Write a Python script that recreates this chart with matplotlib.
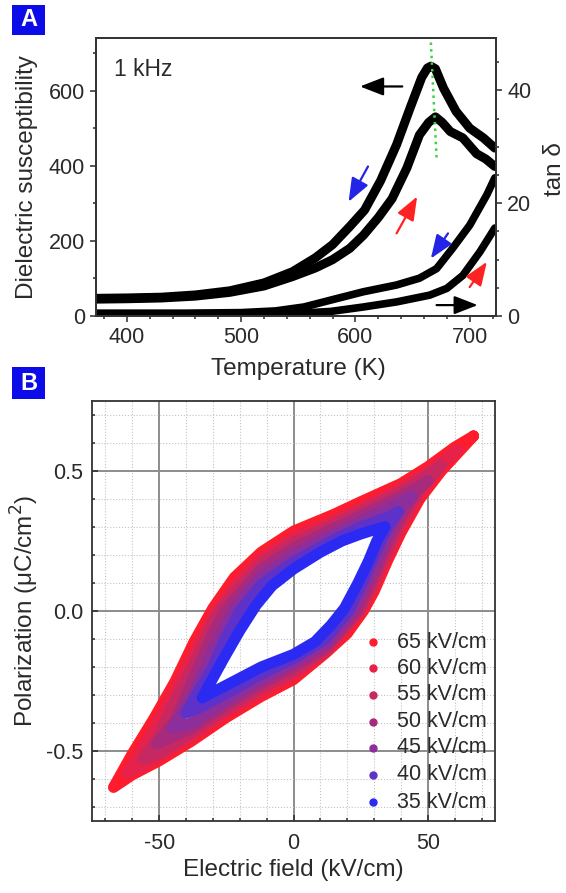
import matplotlib.pyplot as plt
from matplotlib.patches import Rectangle
from matplotlib.ticker import MultipleLocator

plt.rcParams['font.family'] = ['Liberation Sans', 'DejaVu Sans']
TXT = '#2a2a2a'
plt.rcParams['text.color'] = TXT
plt.rcParams['axes.labelcolor'] = TXT
plt.rcParams['xtick.color'] = TXT
plt.rcParams['ytick.color'] = TXT

# ---- panel A: dielectric susceptibility + tan delta at 1 kHz ----
t_chi_cool = [374, 400, 430, 460, 490, 520, 545, 565, 580, 595, 608, 622, 636,
              648, 658, 663, 666, 670, 677, 688, 700, 712, 722]
chi_cool = [47, 48, 50, 56, 67, 88, 118, 155, 190, 238, 282, 360, 456,
            555, 635, 660, 665, 658, 607, 545, 500, 474, 447]
t_chi_heat = [374, 400, 430, 460, 490, 520, 545, 565, 580, 595, 607, 620, 632,
              645, 656, 664, 670, 676, 683, 694, 706, 714, 722]
chi_heat = [45, 46, 48, 53, 63, 80, 105, 128, 150, 180, 215, 262, 312,
            394, 482, 515, 530, 515, 491, 474, 432, 418, 398]

t_tan_cool = [374, 450, 500, 530, 555, 578, 607, 636, 656, 671, 685, 700, 715, 722]
tan_cool = [0.5, 0.5, 0.6, 0.9, 1.6, 2.8, 4.3, 5.5, 6.7, 8.4, 12.0, 16.1, 21.5, 24.5]
t_tan_heat = [374, 450, 500, 540, 560, 578, 607, 636, 665, 680, 694, 709, 722]
tan_heat = [0.3, 0.3, 0.3, 0.4, 0.6, 0.8, 1.6, 2.5, 3.7, 4.9, 7.2, 11.4, 15.6]

# arrows (start, end) in temperature / susceptibility units
arrows = [((641, 611), (604, 611), 'black'),
          ((611, 398), (594, 304), '#2424e6'),
          ((636, 220), (654, 318), '#ff2222'),
          ((681, 220), (666, 153), '#2424e6'),
          ((700, 77), (715, 144), '#ff2222'),
          ((671, 29), (707, 29), 'black')]

# ---- panel B: P-E loops ----
fields = [65, 60, 55, 50, 45, 40, 35]
loop_colors = ['#ff1c2c', '#e6214a', '#c82862', '#a82a7c', '#8c2e9c', '#5e32c8', '#2a2af2']

e65 = [67, 60, 50, 40, 25, 15, 0, -12, -22, -30, -37, -44, -52, -60, -67,
       -60, -50, -38, -25, -12, 0, 12, 20, 26, 30, 35, 40, 47, 55, 67]
p65 = [0.625, 0.585, 0.515, 0.455, 0.39, 0.345, 0.285, 0.21, 0.12, 0.01, -0.11, -0.25, -0.385, -0.51, -0.63,
       -0.585, -0.535, -0.465, -0.38, -0.305, -0.245, -0.15, -0.08, 0.0, 0.07, 0.18, 0.28, 0.40, 0.50, 0.625]
e60 = [61, 50, 40, 25, 15, 0, -12, -22, -29, -37, -44, -52, -57, -62,
       -57, -50, -38, -25, -12, 0, 12, 25, 30, 35, 40, 47, 55, 61]
p60 = [0.575, 0.50, 0.44, 0.37, 0.325, 0.265, 0.19, 0.09, 0.0, -0.145, -0.28, -0.42, -0.50, -0.58,
       -0.56, -0.52, -0.45, -0.365, -0.29, -0.23, -0.145, 0.0, 0.09, 0.20, 0.30, 0.415, 0.52, 0.575]
e55 = [55, 50, 40, 25, 15, 0, -12, -22, -27.5, -30, -37, -44, -50, -56,
       -50, -38, -25, -12, 0, 12, 24.5, 30, 35, 40, 47, 55]
p55 = [0.52, 0.485, 0.425, 0.355, 0.31, 0.245, 0.17, 0.065, 0.0, -0.04, -0.19, -0.32, -0.44, -0.53,
       -0.51, -0.435, -0.35, -0.275, -0.215, -0.14, 0.0, 0.11, 0.22, 0.32, 0.435, 0.52]
e50 = [50, 40, 25, 15, 0, -12, -22, -25.5, -30, -37, -44, -51,
       -44, -38, -25, -12, 0, 12, 23.5, 30, 35, 40, 46, 50]
p50 = [0.465, 0.41, 0.34, 0.295, 0.225, 0.15, 0.04, 0.0, -0.08, -0.235, -0.39, -0.475,
       -0.445, -0.42, -0.335, -0.26, -0.20, -0.13, 0.0, 0.13, 0.245, 0.34, 0.43, 0.465]
e45 = [44, 40, 25, 15, 0, -12, -22, -30, -37, -41, -45,
       -38, -25, -12, 0, 12, 22, 30, 35, 40, 44]
p45 = [0.41, 0.39, 0.32, 0.275, 0.20, 0.125, 0.01, -0.14, -0.29, -0.36, -0.42,
       -0.40, -0.32, -0.245, -0.185, -0.115, 0.0, 0.16, 0.27, 0.37, 0.41]
e40 = [39, 35, 25, 15, 0, -12, -20, -26, -30, -35, -40,
       -35, -25, -12, 0, 12, 20.5, 26, 30, 35, 39]
p40 = [0.355, 0.335, 0.30, 0.255, 0.175, 0.095, 0.0, -0.11, -0.20, -0.28, -0.365,
       -0.345, -0.295, -0.225, -0.17, -0.10, 0.0, 0.11, 0.20, 0.30, 0.355]
e35 = [34, 30, 25, 18, 10, 0, -8, -14, -20, -26, -30, -34,
       -30, -22, -12, 0, 8, 14, 19, 24, 28, 31, 34]
p35 = [0.30, 0.29, 0.275, 0.25, 0.21, 0.15, 0.09, 0.02, -0.07, -0.17, -0.24, -0.31,
       -0.29, -0.25, -0.20, -0.155, -0.11, -0.05, 0.01, 0.10, 0.18, 0.25, 0.30]
loops_e = [e65, e60, e55, e50, e45, e40, e35]
loops_p = [p65, p60, p55, p50, p45, p40, p35]

W, H = 566, 893
fig = plt.figure(figsize=(W / 100, H / 100), dpi=100)


def panel_tag(letter, x0, y0, x1, y1):
    fig.add_artist(Rectangle((x0 / W, 1 - y1 / H), (x1 - x0) / W, (y1 - y0) / H,
                             transform=fig.transFigure, color='#0c0ce8', lw=0))
    fig.text((x0 + x1) / 2 / W, 1 - (y0 + y1) / 2 / H, letter, color='white',
             fontsize=17, fontweight='bold', ha='center', va='center')


def style_spines(ax):
    for s in ax.spines.values():
        s.set_color('#333333')
        s.set_linewidth(1.3)


# ---------------- A ----------------
axA = fig.add_axes([96 / W, 1 - 316 / H, 400 / W, 278 / H])
axT = axA.twinx()
axA.set_zorder(axT.get_zorder() + 1)
axA.patch.set_visible(False)

band = dict(color='black', solid_capstyle='round', solid_joinstyle='round')
axT.plot(t_tan_cool, tan_cool, lw=5.5, **band)
axT.plot(t_tan_heat, tan_heat, lw=5.5, **band)
axA.plot(t_chi_cool, chi_cool, lw=6.5, **band)
axA.plot(t_chi_heat, chi_heat, lw=6.5, **band)
axA.plot([666, 671], [728, 421], ls=':', color='#3cd23c', lw=1.8)

for (x0, y0), (x1, y1), c in arrows:
    axA.annotate('', xy=(x1, y1), xytext=(x0, y0),
                 arrowprops=dict(arrowstyle='-|>,head_length=0.9,head_width=0.35',
                                 color=c, lw=1.6, shrinkA=0, shrinkB=0,
                                 mutation_scale=16))

axA.text(0.045, 0.885, '1 kHz', transform=axA.transAxes, fontsize=16.5,
         ha='left', va='center')

axA.set_xlim(373, 723)
axA.set_ylim(0, 740)
axT.set_ylim(0, 49.3)
axA.xaxis.set_major_locator(MultipleLocator(100))
axA.xaxis.set_minor_locator(MultipleLocator(20))
axA.yaxis.set_major_locator(MultipleLocator(200))
axA.yaxis.set_minor_locator(MultipleLocator(100))
axT.yaxis.set_major_locator(MultipleLocator(20))
axT.yaxis.set_minor_locator(MultipleLocator(5))
for a in (axA, axT):
    a.tick_params(which='both', direction='out', labelsize=15.5, width=1.1)
    a.tick_params(which='major', length=4, pad=4)
    a.tick_params(which='minor', length=2.2)
    style_spines(a)
axA.set_xlabel('Temperature (K)', fontsize=17.5)
axA.set_ylabel('Dielectric susceptibility', fontsize=17.5)
axT.set_ylabel('tan δ', fontsize=17.5)
axA.xaxis.set_label_coords(0.505, -0.151)
axA.yaxis.set_label_coords(-0.145, 0.5)
axT.yaxis.set_label_coords(1.12, 0.53)

# ---------------- B ----------------
axB = fig.add_axes([92 / W, 1 - 821 / H, 403 / W, 420 / H])
axB.set_axisbelow(True)
for e, p, c in zip(loops_e, loops_p, loop_colors):
    axB.plot(e, p, color=c, lw=8, solid_joinstyle='round', solid_capstyle='round')

axB.set_xlim(-75, 75)
axB.set_ylim(-0.75, 0.75)
axB.xaxis.set_major_locator(MultipleLocator(50))
axB.xaxis.set_minor_locator(MultipleLocator(10))
axB.yaxis.set_major_locator(MultipleLocator(0.5))
axB.yaxis.set_minor_locator(MultipleLocator(0.1))
axB.grid(which='major', color='#8c8c8c', lw=1.4)
axB.grid(which='minor', color='#c4c4c4', lw=0.8, ls=':')
axB.tick_params(which='both', direction='in', labelsize=15.5, width=1.1)
axB.tick_params(which='major', length=4.5)
axB.tick_params(which='minor', length=2.5)
axB.tick_params(axis='x', pad=8.5)
axB.tick_params(axis='y', pad=6.5)
axB.set_yticks([-0.5, 0.0, 0.5])
axB.set_yticklabels(['-0.5', '0.0', '0.5'])
axB.set_xticks([-50, 0, 50])
axB.set_xticklabels(['-50', '0', '50'])
style_spines(axB)
axB.set_xlabel('Electric field (kV/cm)', fontsize=17.5)
axB.set_ylabel('Polarization (μC/cm$^2$)', fontsize=17.5)
axB.xaxis.set_label_coords(0.5, -0.09)
axB.yaxis.set_label_coords(-0.127, 0.5)

# legend drawn as markers + text (no frame)
leg_y = [0.426, 0.364, 0.300, 0.236, 0.174, 0.110, 0.045]
for f, c, yy in zip(fields, loop_colors, leg_y):
    axB.plot([0.697], [yy], 'o', ms=5, color=c, transform=axB.transAxes)
    axB.text(0.757, yy, f'{f} kV/cm', transform=axB.transAxes, fontsize=15.5,
             ha='left', va='center')

panel_tag('A', 12, 5, 45, 35)
panel_tag('B', 12, 367, 45, 399)

fig.savefig('out.png', dpi=100)
